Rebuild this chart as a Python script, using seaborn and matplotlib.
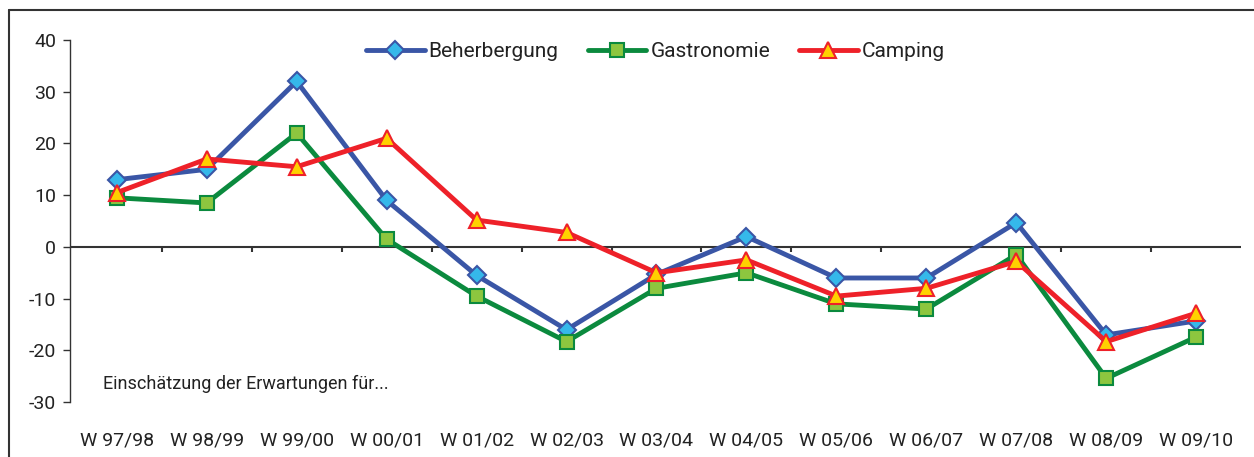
import numpy as np
import pandas as pd
import matplotlib.pyplot as plt
import seaborn as sns
from matplotlib.lines import Line2D

seasons = ["W 97/98", "W 98/99", "W 99/00", "W 00/01", "W 01/02", "W 02/03", "W 03/04",
           "W 04/05", "W 05/06", "W 06/07", "W 07/08", "W 08/09", "W 09/10"]
beherbergung = [13, 15, 32, 9, -5.5, -16, -5.3, 2, -6, -6, 4.7, -17, -14.3]
gastronomie = [9.5, 8.5, 22, 1.5, -9.5, -18.3, -8, -5, -11, -12, -1.5, -25.4, -17.4]
camping = [10.5, 17, 15.5, 21, 5.2, 2.8, -5, -2.5, -9.5, -8, -2.8, -18.3, -12.8]

sns.set_style("white")
plt.rcParams['font.family'] = ['Roboto', 'DejaVu Sans']

fig = plt.figure(figsize=(12.54, 4.57), dpi=100)
ax = fig.add_axes([0.0558, 0.120, 0.934, 0.7925])

x = np.arange(len(seasons))
series = [
    ("Beherbergung", beherbergung, "#3A56A6", "D", "#35B8EA", 9),
    ("Gastronomie", gastronomie, "#0B8A3E", "s", "#8DC63F", 10),
    ("Camping", camping, "#EE2129", "^", "#FFD100", 11),
]
for name, vals, col, mk, fc, ms in series:
    sns.lineplot(x=x, y=vals, ax=ax, color=col, linewidth=3.5, marker=mk,
                 markersize=ms, markerfacecolor=fc, markeredgecolor=col,
                 markeredgewidth=1.5, label=name)

ax.set_xlim(-0.52, 12.5)
ax.set_ylim(-30, 40)
ax.set_yticks(range(-30, 41, 10))
ax.set_yticklabels([str(v) for v in range(-30, 41, 10)], fontsize=14, color="#222222")
ax.tick_params(axis="y", direction="out", length=5, width=1, color="#333333", left=True, pad=5)

ax.set_xticks(x)
ax.set_xticklabels(seasons, fontsize=14, color="#222222")
ax.tick_params(axis="x", length=0, pad=21)

for s in ["top", "right", "bottom"]:
    ax.spines[s].set_visible(False)
ax.spines["left"].set_color("#333333")
ax.spines["left"].set_linewidth(1)

# zero line with category boundary ticks
ax.axhline(0, color="#333333", linewidth=1.5, zorder=1)
ax.vlines(np.arange(0.5, 12.5, 1), -0.9, 0, color="#333333", linewidth=1.5, zorder=1)

ax.text(-0.15, -26.5, "Einschätzung der Erwartungen für...", fontsize=13,
        ha="left", va="center", color="#222222")

leg = ax.legend(loc="upper center", bbox_to_anchor=(0.5, 1.045), ncol=3, frameon=False,
                fontsize=15, handlelength=2.8, handletextpad=0.2, columnspacing=1.4)
for t in leg.get_texts():
    t.set_color("#222222")

# outer frame (left and top edges)
fig.add_artist(Line2D([9 / 1254, 9 / 1254], [0, 1 - 10 / 457], transform=fig.transFigure,
                      color="#333333", linewidth=1.5))
fig.add_artist(Line2D([9 / 1254, 1], [1 - 10 / 457, 1 - 10 / 457], transform=fig.transFigure,
                      color="#333333", linewidth=1.5))

fig.savefig("out.png", dpi=100)
